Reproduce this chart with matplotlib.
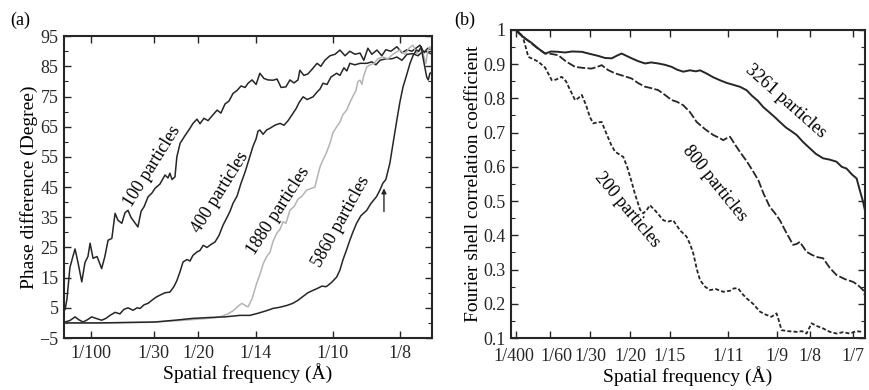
import matplotlib
matplotlib.use("Agg")
import matplotlib.pyplot as plt
from matplotlib.ticker import MultipleLocator
from matplotlib.transforms import ScaledTranslation

plt.rcParams['font.family'] = ['Liberation Serif', 'DejaVu Serif']
plt.rcParams['font.size'] = 12.5

# ---- panel (a): phase difference vs spatial frequency (1/A) ----
a_ticks = [1/100, 1/30, 1/20, 1/14, 1/10, 1/8]
a_ticklabels = ['1/100', '1/30', '1/20', '1/14', '1/10', '1/8']

f100 = [0.0004, 0.0011, 0.0022, 0.0033, 0.0041, 0.0052, 0.0066, 0.0078, 0.0089, 0.0097,
        0.0108, 0.0123, 0.0140, 0.0152, 0.0164, 0.0178, 0.0190, 0.0201, 0.0215, 0.0227,
        0.0238, 0.0249, 0.0261, 0.0275, 0.0287, 0.0298, 0.0313, 0.0327, 0.0339, 0.0357,
        0.0376, 0.0387, 0.0394, 0.0402, 0.0413, 0.0420, 0.0432, 0.0450, 0.0469, 0.0480,
        0.0495, 0.0506, 0.0521, 0.0536, 0.0555, 0.0570, 0.0584, 0.0599, 0.0614, 0.0629,
        0.0644, 0.0659, 0.0674, 0.0685, 0.0700, 0.0715, 0.0729, 0.0744, 0.0759, 0.0778,
        0.0793, 0.0808, 0.0826, 0.0841, 0.0856, 0.0871, 0.0878, 0.0893, 0.0908, 0.0923,
        0.0942, 0.0956, 0.0971, 0.0990, 0.1009, 0.1027, 0.1046, 0.1064, 0.1083, 0.1102,
        0.1116, 0.1131, 0.1146, 0.1165, 0.1183, 0.1198, 0.1217, 0.1239, 0.1258, 0.1277,
        0.1295, 0.1310, 0.1325, 0.1340, 0.1354, 0.1370]
p100 = [4.5, 8, 18.4, 22, 24.5, 20, 13.6, 20, 22, 26.4,
        21.4, 22, 18, 22, 27.4, 28, 36.3, 34, 33, 36.5,
        37.3, 35, 33.5, 31.8, 37, 38.5, 41.8, 43, 44.6, 46,
        49, 48, 49.6, 47.5, 48.4, 55, 59.5, 62, 64.5, 66.1,
        67.5, 66, 67.8, 67, 69, 70.5, 69.5, 72.5, 73.5, 76,
        77, 78.5, 78, 79.4, 80.5, 79, 82.7, 81, 80.5, 80.4,
        80.8, 78, 78.2, 80.5, 79.5, 80.5, 83.7, 82, 82.5, 84,
        86, 85, 87, 88.5, 89, 90.4, 88.5, 90, 89, 89.4,
        87, 91, 89, 90.4, 88.5, 90.5, 90, 91.5, 89.5, 90.5,
        90, 91, 92, 89.5, 91, 90.4]

f400 = [0.0004, 0.0022, 0.0041, 0.0056, 0.0071, 0.0086, 0.0103, 0.0119, 0.0140, 0.0156,
        0.0171, 0.0190, 0.0208, 0.0223, 0.0238, 0.0257, 0.0272, 0.0283, 0.0298, 0.0313,
        0.0327, 0.0342, 0.0357, 0.0376, 0.0394, 0.0409, 0.0420, 0.0432, 0.0443, 0.0458,
        0.0469, 0.0480, 0.0495, 0.0506, 0.0518, 0.0532, 0.0547, 0.0562, 0.0577, 0.0592,
        0.0607, 0.0618, 0.0629, 0.0644, 0.0659, 0.0674, 0.0688, 0.0703, 0.0715, 0.0722,
        0.0729, 0.0741, 0.0754, 0.0767, 0.0785, 0.0804, 0.0819, 0.0834, 0.0849, 0.0864,
        0.0875, 0.0890, 0.0905, 0.0927, 0.0942, 0.0953, 0.0964, 0.0979, 0.0994, 0.1015,
        0.1027, 0.1042, 0.1053, 0.1064, 0.1083, 0.1102, 0.1127, 0.1146, 0.1161, 0.1176,
        0.1198, 0.1221, 0.1239, 0.1258, 0.1277, 0.1299, 0.1318, 0.1336, 0.1351, 0.1370]
p400 = [0.3, 0.8, 2, 1, 0.3, 1, 2, 1.5, 0.9, 1.5,
        2.5, 3.5, 3, 4.5, 5, 4.2, 5, 4.8, 6, 6.5,
        7.5, 8.5, 9.2, 10, 10.2, 12, 14, 17, 20.2, 21,
        20.5, 22.4, 23.5, 24, 25.7, 25, 26, 26.8, 29, 32.4,
        35, 37, 39.6, 42, 46.3, 50, 54, 58.4, 61, 63.5,
        63.9, 62.5, 63.9, 64.5, 65.5, 66.1, 65.5, 67, 69, 71,
        73, 74.9, 74, 74.9, 76.5, 77.5, 79.4, 79, 81.5, 82.7,
        82, 84.5, 83.5, 86, 85.5, 86, 86, 86.5, 85.5, 87,
        87.5, 87.5, 88.1, 87, 89, 89.2, 88.5, 90, 89.8, 89]

f1880 = [0.0004, 0.0134, 0.0320, 0.0432, 0.0506, 0.0562, 0.0588, 0.0610, 0.0629, 0.0648,
         0.0662, 0.0674, 0.0685, 0.0700, 0.0717, 0.0729, 0.0741, 0.0754, 0.0767, 0.0778,
         0.0792, 0.0804, 0.0815, 0.0826, 0.0841, 0.0856, 0.0871, 0.0886, 0.0903, 0.0919,
         0.0934, 0.0945, 0.0953, 0.0964, 0.0975, 0.0990, 0.1001, 0.1015, 0.1027, 0.1038,
         0.1052, 0.1064, 0.1075, 0.1087, 0.1094, 0.1102, 0.1109, 0.1116, 0.1127, 0.1139,
         0.1154, 0.1168, 0.1187, 0.1206, 0.1224, 0.1250, 0.1269, 0.1284, 0.1299, 0.1314,
         0.1325, 0.1336, 0.1347, 0.1354, 0.1362, 0.1370]
p1880 = [0, 0, 0.2, 0.8, 1.3, 1.7, 2.2, 3, 4, 5.5,
         6.5, 5.8, 5.3, 8, 13.1, 16, 19.5, 21.9, 23.5, 27,
         29.7, 31, 33.5, 33, 37.3, 38.5, 41, 42, 44, 44.5,
         45, 49, 51.7, 54, 56, 59.5, 63, 65, 66.5, 69,
         70.5, 73, 75, 77, 80, 80.4, 79, 82, 84.8, 85.5,
         86, 87.5, 88.1, 87.5, 89, 90.4, 89, 91, 92, 89,
         91, 89.4, 86, 90, 91.5, 90]

f5860 = [0.0004, 0.0134, 0.0339, 0.0413, 0.0480, 0.0543, 0.0599, 0.0655, 0.0692, 0.0722,
         0.0752, 0.0778, 0.0804, 0.0830, 0.0852, 0.0871, 0.0890, 0.0908, 0.0927, 0.0945,
         0.0960, 0.0975, 0.0982, 0.0997, 0.1015, 0.1027, 0.1038, 0.1053, 0.1064, 0.1075,
         0.1089, 0.1105, 0.1127, 0.1142, 0.1163, 0.1176, 0.1187, 0.1198, 0.1213, 0.1224,
         0.1239, 0.1250, 0.1262, 0.1275, 0.1288, 0.1299, 0.1312, 0.1321, 0.1330, 0.1336,
         0.1343, 0.1350, 0.1356, 0.1362, 0.1370]
p5860 = [0, 0, 0.3, 0.9, 1.5, 1.8, 2.0, 2.5, 2.5, 3.2,
         4, 4.8, 5.2, 5.8, 6.5, 7.5, 8.8, 10, 10.8, 11.5,
         12.2, 12, 12.4, 13.5, 15.2, 17.5, 20.8, 24.5, 27.4, 30,
         33, 35.5, 37.3, 39.5, 41.8, 44, 46.3, 47.5, 52.9, 59,
         67.2, 73, 78.2, 82, 86, 88.5, 90.4, 90, 91.5, 88,
         84.8, 81.5, 80.5, 82.7, 83]

# ---- panel (b): FSC vs spatial frequency (1/A) ----
b_ticks = [1/400, 1/60, 1/30, 1/20, 1/15, 1/11, 1/9, 1/8, 1/7]
b_ticklabels = ['1/400', '1/60', '1/30', '1/20', '1/15', '1/11', '1/9', '1/8', '1/7']

f3261 = [0.0025, 0.0035, 0.0063, 0.0090, 0.0117, 0.0146, 0.0171, 0.0201, 0.0229, 0.0258,
         0.0299, 0.0333, 0.0368, 0.0396, 0.0424, 0.0446, 0.0465, 0.0483, 0.0507, 0.0533,
         0.0563, 0.0588, 0.0618, 0.0646, 0.0674, 0.0696, 0.0722, 0.0750, 0.0775, 0.0792,
         0.0821, 0.0846, 0.0875, 0.0904, 0.0929, 0.0958, 0.0986, 0.1008, 0.1033, 0.1055,
         0.1083, 0.1104, 0.1125, 0.1150, 0.1171, 0.1195, 0.1221, 0.1250, 0.1275, 0.1305,
         0.1333, 0.1361, 0.1383, 0.1403, 0.1425, 0.1445, 0.1458, 0.1471, 0.1479]
c3261 = [1.0, 0.991, 0.975, 0.962, 0.946, 0.931, 0.937, 0.936, 0.934, 0.937,
         0.936, 0.930, 0.924, 0.918, 0.917, 0.925, 0.931, 0.925, 0.917, 0.909,
         0.902, 0.905, 0.902, 0.898, 0.892, 0.884, 0.878, 0.882, 0.879, 0.882,
         0.872, 0.862, 0.853, 0.845, 0.840, 0.834, 0.824, 0.808, 0.793, 0.775,
         0.758, 0.745, 0.731, 0.715, 0.705, 0.693, 0.673, 0.654, 0.638, 0.625,
         0.621, 0.615, 0.600, 0.595, 0.578, 0.566, 0.532, 0.500, 0.475]

f800 = [0.0025, 0.0063, 0.0090, 0.0117, 0.0146, 0.0171, 0.0201, 0.0233, 0.0271, 0.0304,
        0.0340, 0.0363, 0.0382, 0.0408, 0.0438, 0.0471, 0.0507, 0.0533, 0.0563, 0.0588,
        0.0618, 0.0646, 0.0674, 0.0696, 0.0722, 0.0750, 0.0778, 0.0813, 0.0847, 0.0871,
        0.0889, 0.0904, 0.0917, 0.0938, 0.0958, 0.0988, 0.1014, 0.1035, 0.1058, 0.1083,
        0.1104, 0.1125, 0.1150, 0.1180, 0.1196, 0.1208, 0.1236, 0.1258, 0.1283, 0.1305,
        0.1333, 0.1361, 0.1396, 0.1430, 0.1450, 0.1472, 0.1479]
c800 = [1.0, 0.975, 0.960, 0.945, 0.931, 0.930, 0.926, 0.908, 0.892, 0.889,
        0.887, 0.892, 0.897, 0.883, 0.873, 0.866, 0.858, 0.845, 0.834, 0.830,
        0.824, 0.810, 0.795, 0.790, 0.780, 0.760, 0.731, 0.710, 0.693, 0.685,
        0.678, 0.684, 0.688, 0.665, 0.644, 0.615, 0.586, 0.561, 0.520, 0.483,
        0.465, 0.444, 0.410, 0.372, 0.375, 0.381, 0.352, 0.343, 0.336, 0.333,
        0.305, 0.284, 0.272, 0.264, 0.255, 0.240, 0.225]

f200 = [0.0025, 0.0042, 0.0055, 0.0067, 0.0076, 0.0096, 0.0118, 0.0146, 0.0174, 0.0192,
        0.0215, 0.0233, 0.0250, 0.0271, 0.0283, 0.0299, 0.0317, 0.0333, 0.0347, 0.0363,
        0.0382, 0.0400, 0.0421, 0.0438, 0.0454, 0.0472, 0.0488, 0.0507, 0.0521, 0.0542,
        0.0555, 0.0571, 0.0583, 0.0608, 0.0639, 0.0658, 0.0680, 0.0708, 0.0736, 0.0750,
        0.0764, 0.0779, 0.0792, 0.0813, 0.0833, 0.0858, 0.0889, 0.0917, 0.0933, 0.0951,
        0.0967, 0.0986, 0.1013, 0.1042, 0.1067, 0.1090, 0.1111, 0.1121, 0.1132, 0.1158,
        0.1195, 0.1217, 0.1236, 0.1257, 0.1279, 0.1305, 0.1333, 0.1361, 0.1388, 0.1417,
        0.1442, 0.1472]
c200 = [1.0, 0.99, 0.975, 0.945, 0.921, 0.915, 0.907, 0.89, 0.853, 0.855,
        0.863, 0.85, 0.825, 0.795, 0.8, 0.810, 0.78, 0.745, 0.727, 0.73,
        0.731, 0.70, 0.665, 0.644, 0.637, 0.629, 0.6, 0.556, 0.52, 0.475,
        0.464, 0.475, 0.488, 0.47, 0.444, 0.44, 0.444, 0.415, 0.396, 0.375,
        0.347, 0.3, 0.269, 0.25, 0.240, 0.243, 0.235, 0.238, 0.245, 0.245,
        0.23, 0.216, 0.2, 0.177, 0.168, 0.162, 0.172, 0.15, 0.123, 0.12,
        0.118, 0.12, 0.113, 0.143, 0.135, 0.128, 0.118, 0.113, 0.117, 0.113,
        0.12, 0.118]

dark = '#262626'
fig = plt.figure(figsize=(8.7, 3.9), dpi=100)
axa = fig.add_axes([0.0736, 0.1333, 0.423, 0.774])
axb = fig.add_axes([0.5874, 0.1333, 0.4069, 0.79])

# panel (a)
axa.plot(f100, p100, color=dark, lw=1.1)
axa.plot(f400, p400, color=dark, lw=1.1)
axa.plot(f1880, p1880, color='#b4b4b4', lw=1.1)
axa.plot(f5860, p5860, color=dark, lw=1.1)
axa.annotate('', xy=(0.1191, 45.5), xytext=(0.1191, 36),
             arrowprops=dict(arrowstyle='-|>', color=dark, lw=1.0, mutation_scale=7))
axa.text(0.0330, 52.0, '100 particles', rotation=58, ha='center', va='center', fontsize=13)
axa.text(0.0580, 43.3, '400 particles', rotation=58, ha='center', va='center', fontsize=13)
axa.text(0.0798, 37.0, '1880 particles', rotation=57, ha='center', va='center', fontsize=13)
axa.text(0.1030, 33.4, '5860 particles', rotation=61, ha='center', va='center', fontsize=13)
axa.set_xlim(0, 0.137)
axa.set_ylim(-5, 95)
axa.set_xticks(a_ticks)
axa.set_xticklabels(a_ticklabels)
axa.set_yticks(range(-5, 96, 10))
axa.yaxis.set_minor_locator(MultipleLocator(5))
axa.set_xlabel('Spatial frequency (Å)', labelpad=1, fontsize=14)
axa.set_ylabel('Phase difference (Degree)', labelpad=1, fontsize=14)
fig.text(0.012, 0.935, '(a)', fontsize=13)

# panel (b)
axb.plot(f3261, c3261, color=dark, lw=1.4)
axb.plot(f800, c800, color=dark, lw=1.3, linestyle=(0, (4.5, 1.3)))
axb.plot(f200, c200, color=dark, lw=1.3, linestyle=(0, (2.2, 1.2)))
axb.text(0.115, 0.792, '3261 particles', rotation=-41.5, ha='center', va='center', fontsize=13)
axb.text(0.0854, 0.552, '800 particles', rotation=-51, ha='center', va='center', fontsize=13)
axb.text(0.0488, 0.474, '200 particles', rotation=-50, ha='center', va='center', fontsize=13)
axb.set_xlim(0.0004, 0.148)
axb.set_ylim(0.1, 1.0)
axb.set_xticks(b_ticks)
axb.set_xticklabels(b_ticklabels)
axb.set_yticks([0.1, 0.2, 0.3, 0.4, 0.5, 0.6, 0.7, 0.8, 0.9, 1.0])
axb.set_yticklabels(['0.1', '0.2', '0.3', '0.4', '0.5', '0.6', '0.7', '0.8', '0.9', '1'])
axb.yaxis.set_minor_locator(MultipleLocator(0.05))
axb.set_xlabel('Spatial frequency (Å)', labelpad=1, fontsize=14)
axb.set_ylabel('Fourier shell correlation coefficient', labelpad=1, fontsize=14)
fig.text(0.522, 0.935, '(b)', fontsize=13)

for ax in (axa, axb):
    ax.tick_params(which='both', direction='in', top=True, right=True, colors=dark)
    ax.tick_params(which='major', length=5, width=1.0, pad=4, labelsize=13)
    ax.tick_params(which='minor', length=3, width=0.8)
    ax.tick_params(axis='x', which='minor', top=False, bottom=False)
    ax.tick_params(axis='x', pad=5)
axb.tick_params(axis='x', pad=7)
for ax in (axa, axb):
    for s in ax.spines.values():
        s.set_linewidth(1.5)
        s.set_color(dark)

# squeeze the crowded first two frequency labels of panel (b) apart
xl = axb.get_xticklabels()
xl[0].set_transform(xl[0].get_transform() + ScaledTranslation(-2/100, 0, fig.dpi_scale_trans))
xl[1].set_transform(xl[1].get_transform() + ScaledTranslation(6/100, 0, fig.dpi_scale_trans))

fig.savefig('out.png', dpi=100)
